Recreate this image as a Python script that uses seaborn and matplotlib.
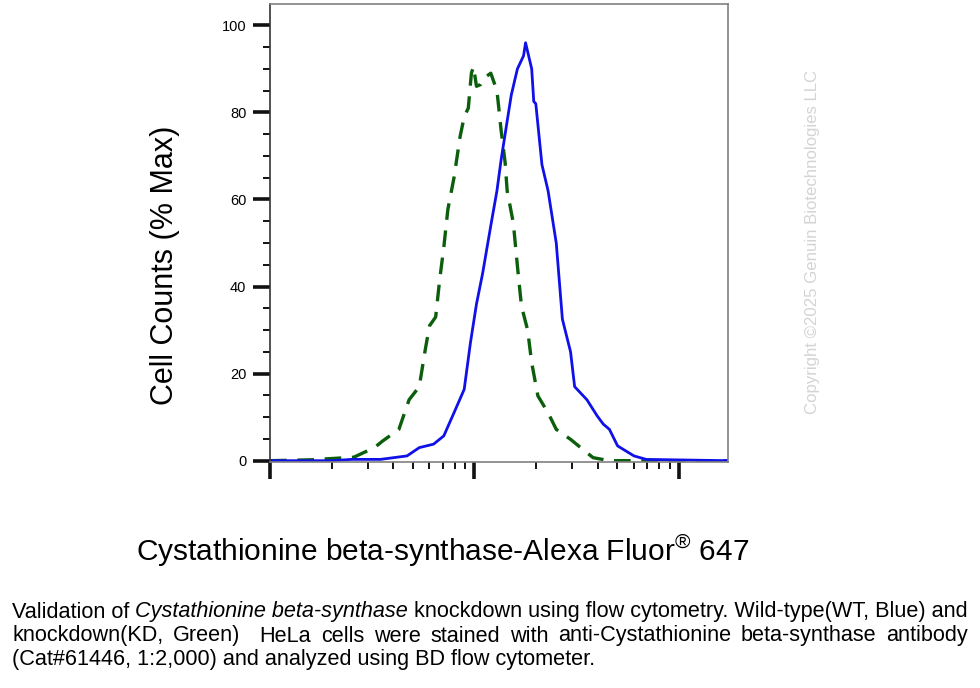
import matplotlib
matplotlib.use("Agg")
import matplotlib.pyplot as plt
from matplotlib.ticker import LogLocator, MultipleLocator, NullFormatter
import seaborn as sns
import pandas as pd

# fluorescence intensity (log axis, 10^2 .. ~10^4.24) and % max
wt_x = [100, 200, 251, 347, 468, 537, 631, 708, 794, 891, 955, 1023, 1096, 1202, 1288, 1349,
        1445, 1514, 1622, 1738, 1778, 1905, 1950, 1995, 2138, 2291, 2512, 2692, 2951, 3090,
        3548, 3981, 4266, 4571, 5012, 6026, 6918, 17378]
wt_y = [0, 0, 0.3, 0.3, 1.1, 3.0, 3.8, 5.7, 11, 16.4, 27, 36, 43, 54, 62, 69,
        78, 84, 90, 93, 96, 90, 82.5, 82, 68, 62, 50, 32.5, 25, 17,
        14, 10.3, 8.4, 7.2, 3.4, 1.1, 0.3, 0]

kd_x = [100, 158, 257, 324, 355, 427, 479, 537, 575, 603, 646, 676, 708, 741, 794, 851,
        891, 933, 966, 989, 1023, 1072, 1122, 1202, 1288, 1318, 1349, 1413, 1445, 1549,
        1622, 1698, 1820, 1905, 2042, 2291, 2512, 2951, 3388, 3802, 4571, 17378]
kd_y = [0, 0.2, 0.8, 3.0, 4.5, 7.2, 14, 17, 25.6, 31, 33, 41.6, 49, 57.7, 65, 74.5,
        79, 81, 89, 90.5, 86, 86.4, 88, 89, 85, 80.6, 76, 68.4, 62, 54.6,
        44.7, 35.5, 30, 22.5, 14.9, 11, 7.2, 4.9, 2.6, 0.7, 0, 0]

y_ticks = [0, 20, 40, 60, 80, 100]

x_label = "Cystathionine beta-synthase-Alexa Fluor$^{\u00ae}$ 647"
y_label = "Cell Counts (% Max)"
watermark = "Copyright \u00a92025 Genuin Biotechnologies LLC"
caption_1a = "Validation of "
caption_1b = "Cystathionine beta-synthase"
caption_1c = " knockdown using flow cytometry. Wild-type(WT, Blue) and"
caption_2 = "knockdown(KD, Green)  HeLa cells were stained with anti-Cystathionine beta-synthase antibody"
caption_3 = "(Cat#61446, 1:2,000) and analyzed using BD flow cytometer."

sns.set_style("white")
plt.rcParams['font.family'] = ['Liberation Sans', 'DejaVu Sans']
plt.rcParams['text.color'] = 'black'
plt.rcParams['mathtext.fontset'] = 'custom'
plt.rcParams['mathtext.rm'] = 'Liberation Sans'

fig = plt.figure(figsize=(9.8, 6.88), dpi=100)
ax = fig.add_axes([270 / 980, 1 - 462 / 688, 458 / 980, 458 / 688])

wt = pd.DataFrame({'x': wt_x, 'y': wt_y})
kd = pd.DataFrame({'x': kd_x, 'y': kd_y})
sns.lineplot(data=kd, x='x', y='y', ax=ax, color='#0b5e0b', lw=2.4,
             linestyle=(0, (5, 3.2)), sort=False)
sns.lineplot(data=wt, x='x', y='y', ax=ax, color='#1010e8', lw=2.0, sort=False)

ax.set_xscale('log')
ax.set_xlim(100, 17378)
ax.set_ylim(-0.3, 104.9)
ax.set_xlabel('')
ax.set_ylabel('')

ax.xaxis.set_major_locator(LogLocator(base=10, numticks=10))
ax.xaxis.set_minor_locator(LogLocator(base=10, subs=range(2, 10), numticks=50))
ax.xaxis.set_major_formatter(NullFormatter())
ax.xaxis.set_minor_formatter(NullFormatter())
ax.set_yticks(y_ticks)
ax.yaxis.set_minor_locator(MultipleLocator(5))

ax.tick_params(axis='both', which='major', direction='out', length=12, width=2.6,
               color='#111111', bottom=True, left=True)
ax.tick_params(axis='both', which='minor', direction='out', length=5, width=1.4,
               color='#111111', bottom=True, left=True)
ax.tick_params(axis='y', which='major', labelsize=10.5, pad=5, labelcolor='black')

for side in ['top', 'right', 'bottom']:
    ax.spines[side].set_color('#808080')
    ax.spines[side].set_linewidth(1.2)
ax.spines['left'].set_color('#333333')
ax.spines['left'].set_linewidth(1.2)

fig.text(165 / 980, 1 - 265 / 688, y_label, rotation=90, ha='center', va='center',
         fontsize=22)
fig.text(443 / 980, 1 - 551 / 688, x_label, ha='center', va='center', fontsize=21.5)
fig.text(812 / 980, 1 - 242 / 688, watermark, rotation=90, ha='center', va='center',
         fontsize=12.1, color='#d4d4d4')

cap_font = ['Liberation Sans', 'DejaVu Sans']
cap_size = 15.6
fig.canvas.draw()
r = fig.canvas.get_renderer()

# line 1 (mixed italic)
t1 = fig.text(12 / 980, 1 - 612 / 688, caption_1a, ha='left', va='center',
              fontsize=cap_size, family=cap_font)
bb = t1.get_window_extent(r)
t2 = fig.text(bb.x1 / 980, 1 - 612 / 688, caption_1b, ha='left', va='center',
              fontsize=cap_size, family=cap_font, style='italic')
bb = t2.get_window_extent(r)
fig.text(bb.x1 / 980, 1 - 612 / 688, caption_1c, ha='left', va='center',
         fontsize=cap_size, family=cap_font)

# line 2 justified to the right edge
words = caption_2.split(' ')
widths = []
tmp = []
for w in words:
    t = fig.text(0, 0, w, fontsize=cap_size, family=cap_font)
    widths.append(t.get_window_extent(r).width)
    tmp.append(t)
for t in tmp:
    t.remove()
gap = (968 - 12 - sum(widths)) / (len(words) - 1)
x = 12
for w, wd in zip(words, widths):
    if w:
        fig.text(x / 980, 1 - 636 / 688, w, ha='left', va='center',
                 fontsize=cap_size, family=cap_font)
    x += wd + gap

fig.text(12 / 980, 1 - 660 / 688, caption_3, ha='left', va='center',
         fontsize=cap_size, family=cap_font)

fig.savefig('out.png', dpi=100)
